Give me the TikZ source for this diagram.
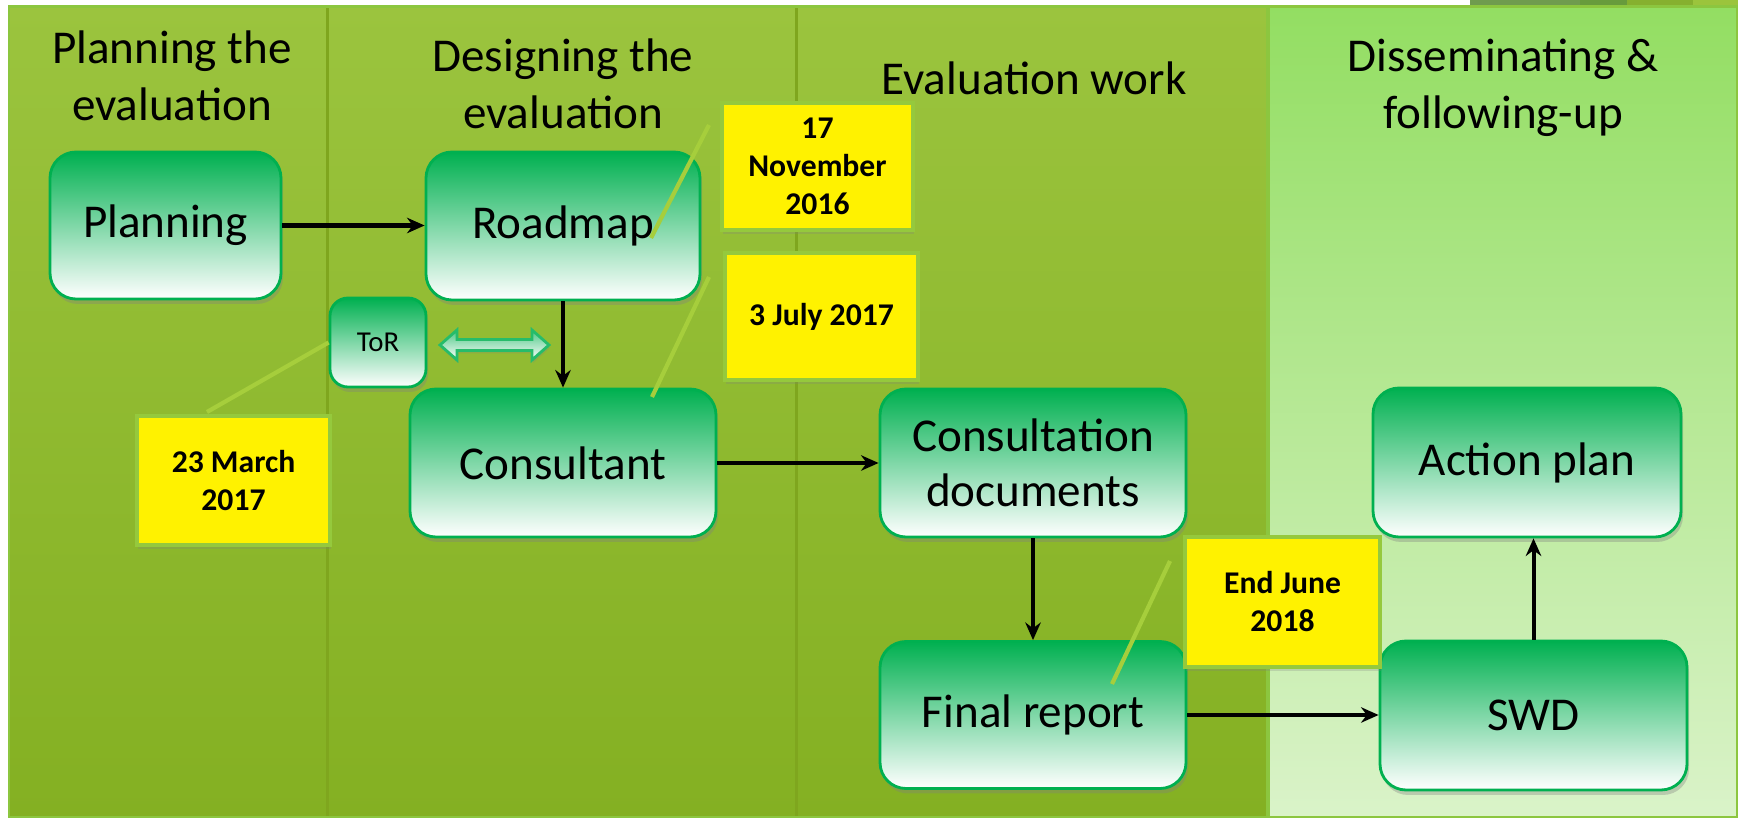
\documentclass[tikz,border=0pt]{standalone}
\usepackage{fontspec}
\setmainfont{Carlito}
\usepackage{tikz}
\usetikzlibrary{arrows.meta,shadows}

\definecolor{boxgreen}{HTML}{00B050}
\definecolor{laneTop}{HTML}{9BC43E}
\definecolor{laneBot}{HTML}{84B022}
\definecolor{lastTop}{HTML}{93DE62}
\definecolor{lastBot}{HTML}{DAF3C9}
\definecolor{edgegreen}{HTML}{8CC63F}
\definecolor{dividergreen}{HTML}{7FA61E}
\definecolor{calloutgreen}{HTML}{95C93D}
\definecolor{pointergreen}{HTML}{A6CE3C}

\begin{document}
\begin{tikzpicture}[
    >={Stealth[length=5pt,width=4.4pt]},
    stepbox/.style={draw=boxgreen, line width=0.8pt, rounded corners=0.26cm,
        top color=boxgreen, bottom color=white, align=center,
        font=\fontsize{13.4}{15.7}\selectfont,
        drop shadow={shadow xshift=0.02cm, shadow yshift=-0.05cm, opacity=0.35}},
    datebox/.style={draw=calloutgreen, line width=1.2pt, fill=yellow, align=center,
        font=\fontsize{9}{10.8}\selectfont\bfseries,
        drop shadow={shadow xshift=0.01cm, shadow yshift=-0.04cm, opacity=0.25}},
    heading/.style={align=center, font=\fontsize{13.4}{16.2}\selectfont},
    pointer/.style={draw=pointergreen, line width=1.2pt},
    flow/.style={->, line width=1.15pt}
]
    \useasboundingbox (0,0) rectangle (17.38,-8.18);
    \fill[white] (0,0) rectangle (17.38,-8.18);

    % slide decoration at the top right
    \fill[fill={rgb,255:red,111;green,155;blue,78}] (14.70,0) rectangle (15.80,-0.07);
    \fill[fill={rgb,255:red,103;green,155;blue,60}] (15.80,0) rectangle (16.27,-0.07);
    \fill[fill={rgb,255:red,134;green,176;blue,47}] (16.27,0) rectangle (16.93,-0.07);
    \fill[fill={rgb,255:red,155;green,196;blue,60}] (16.93,0) rectangle (17.38,-0.07);

    % lanes
    \shade[top color=laneTop, bottom color=laneBot] (0.09,-0.065) rectangle (12.67,-8.18);
    \shade[top color=lastTop, bottom color=lastBot] (12.67,-0.065) rectangle (17.37,-8.18);
    \draw[dividergreen, line width=0.7pt] (3.275,-0.065) -- (3.275,-8.18);
    \draw[dividergreen, line width=0.7pt] (7.965,-0.065) -- (7.965,-8.18);
    \draw[edgegreen, line width=1pt] (12.68,-0.065) -- (12.68,-8.18);
    \draw[edgegreen, line width=0.6pt] (0.09,-0.065) rectangle (17.37,-8.17);

    \node[heading] (headPlan) at (1.72,-0.76) {Planning the\\evaluation};
    \node[heading] (headDesign) at (5.63,-0.84) {Designing the\\evaluation};
    \node[heading] (headWork) at (10.34,-0.78) {Evaluation work};
    \node[heading] (headFollow) at (15.03,-0.88) {Disseminating \&\\following-up};

    \node[stepbox, minimum width=2.31cm, minimum height=1.47cm] (planning) at (1.655,-2.255) {Planning};
    \node[stepbox, minimum width=2.74cm, minimum height=1.48cm] (roadmap) at (5.63,-2.26) {Roadmap};
    \node[stepbox, minimum width=0.96cm, minimum height=0.89cm, rounded corners=0.18cm,
        font=\fontsize{8.2}{10}\selectfont] (tor) at (3.78,-3.425) {ToR};
    \node[stepbox, minimum width=3.06cm, minimum height=1.48cm] (consultant) at (5.63,-4.63) {Consultant};
    \node[stepbox, minimum width=3.06cm, minimum height=1.48cm] (consultdocs) at (10.33,-4.63) {Consultation\\documents};
    \node[stepbox, minimum width=3.06cm, minimum height=1.47cm] (finalreport) at (10.33,-7.15) {Final report};
    \node[stepbox, minimum width=3.08cm, minimum height=1.49cm] (actionplan) at (15.27,-4.625) {Action plan};
    \node[stepbox, minimum width=3.07cm, minimum height=1.49cm] (swd) at (15.335,-7.155) {SWD};

    % two-headed arrow beside ToR
    \filldraw[draw=boxgreen!85, line width=0.8pt, top color=boxgreen!70, bottom color=white,
        drop shadow={shadow xshift=0.01cm, shadow yshift=-0.03cm, opacity=0.25}]
        (4.40,-3.45) -- (4.57,-3.30) -- (4.57,-3.395) -- (5.32,-3.395) -- (5.32,-3.30)
        -- (5.49,-3.45) -- (5.32,-3.60) -- (5.32,-3.505) -- (4.57,-3.505) -- (4.57,-3.60) -- cycle;

    \draw[flow] (planning) -- (planning -| roadmap.west);
    \draw[flow] (roadmap) -- (consultant);
    \draw[flow] (consultant) -- (consultdocs);
    \draw[flow] (consultdocs) -- (finalreport);
    \draw[flow] (finalreport) -- (finalreport -| swd.west);
    \draw[flow] (swd.north) -- (swd.north |- actionplan.south);

    \node[datebox, minimum width=1.91cm, minimum height=1.27cm] (novDate) at (8.175,-1.665) {17\\November\\2016};
    \node[datebox, minimum width=1.93cm, minimum height=1.27cm] (julDate) at (8.215,-3.165) {3 July 2017};
    \node[datebox, minimum width=1.93cm, minimum height=1.29cm] (marDate) at (2.335,-4.805) {23 March\\2017};
    \node[datebox, minimum width=1.95cm, minimum height=1.30cm] (junDate) at (12.825,-6.02) {End June\\2018};

    \coordinate (novFoot) at (7.09,-1.25);
    \coordinate (novTip) at (6.51,-2.38);
    \coordinate (julFoot) at (7.09,-2.77);
    \coordinate (julTip) at (6.52,-3.97);
    \coordinate (marFoot) at (2.07,-4.12);
    \coordinate (junFoot) at (11.70,-5.61);
    \coordinate (junTip) at (11.12,-6.84);
    \draw[pointer] (novFoot) -- (novTip);
    \draw[pointer] (julFoot) -- (julTip);
    \draw[pointer] (marFoot) -- (tor.west);
    \draw[pointer] (junFoot) -- (junTip);
\end{tikzpicture}
\end{document}
